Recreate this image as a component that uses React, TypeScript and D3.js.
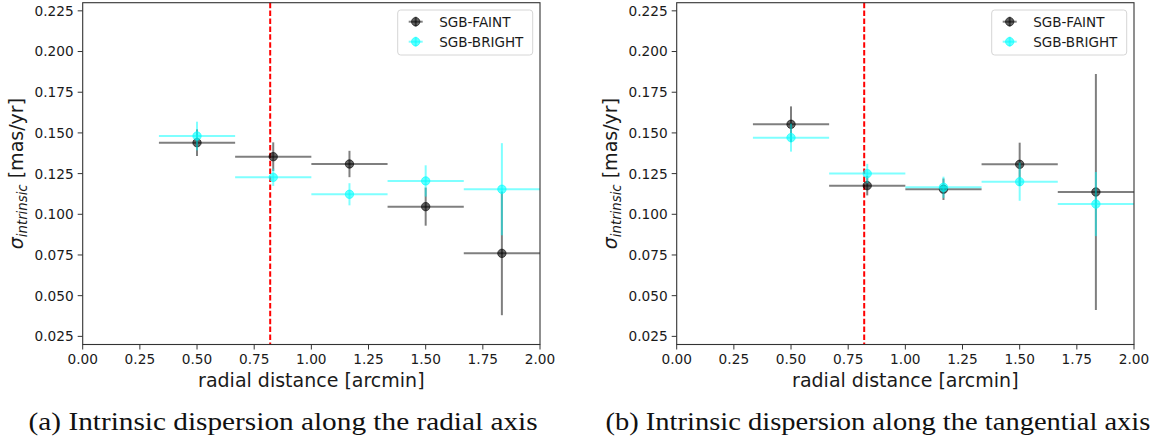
import React, { useEffect, useRef } from 'react';
import * as d3 from 'd3';

// bin centres in arcmin, each bin is 1/3 arcmin wide
const binCenters = [0.5, 0.8333, 1.1667, 1.5, 1.8333];
const binHalfWidth = 1 / 6;

// (a) radial axis
const faintRadial = [0.144, 0.1354, 0.1309, 0.1047, 0.076];
const faintRadialErr = [0.0082, 0.0088, 0.0081, 0.0117, 0.038];
const brightRadial = [0.1481, 0.1227, 0.1123, 0.1205, 0.1154];
const brightRadialErr = [0.0088, 0.0053, 0.0068, 0.0096, 0.0283];

// (b) tangential axis
const faintTang = [0.1553, 0.1176, 0.1154, 0.1307, 0.1137];
const faintTangErr = [0.011, 0.006, 0.0066, 0.0133, 0.0725];
const brightTang = [0.1471, 0.125, 0.1166, 0.12, 0.1063];
const brightTangErr = [0.0086, 0.006, 0.0065, 0.0117, 0.0197];

const seriesNames = ['SGB-FAINT', 'SGB-BRIGHT'];
const seriesColors = ['#000000', '#00ffff'];
const halfLightRadius = 0.82;

const xTicks = [0, 0.25, 0.5, 0.75, 1.0, 1.25, 1.5, 1.75, 2.0];
const yTicks = [0.025, 0.05, 0.075, 0.1, 0.125, 0.15, 0.175, 0.2, 0.225];
const xDomain = [0, 2];
const yDomain = [0.02, 0.23];

const captions = [
  '(a) Intrinsic dispersion along the radial axis',
  '(b) Intrinsic dispersion along the tangential axis',
];

const W = 1162;
const H = 445;
const SANS = 'DejaVu Sans, sans-serif';

export default function App() {
  const svgRef = useRef<SVGSVGElement | null>(null);

  useEffect(() => {
    const svg = d3.select(svgRef.current);
    svg.selectAll('*').remove();

    const panels = [
      {
        left: 82.7, right: 540, top: 2.7, bottom: 344.5,
        faint: faintRadial, faintErr: faintRadialErr,
        bright: brightRadial, brightErr: brightRadialErr,
        caption: captions[0], capX: 28.6, capW: 509,
      },
      {
        left: 676.7, right: 1134, top: 2.7, bottom: 344.5,
        faint: faintTang, faintErr: faintTangErr,
        bright: brightTang, brightErr: brightTangErr,
        caption: captions[1], capX: 605.4, capW: 545,
      },
    ];

    panels.forEach((p) => {
      const x = d3.scaleLinear().domain(xDomain).range([p.left, p.right]);
      const y = d3.scaleLinear().domain(yDomain).range([p.bottom, p.top]);
      const g = svg.append('g');

      // dashed reference line
      g.append('line')
        .attr('x1', x(halfLightRadius)).attr('x2', x(halfLightRadius))
        .attr('y1', p.top).attr('y2', p.bottom)
        .attr('stroke', '#ff0000').attr('stroke-width', 2)
        .attr('stroke-dasharray', '5.5,2.4');

      // error bars + markers
      const sets = [
        { vals: p.faint, errs: p.faintErr, color: seriesColors[0] },
        { vals: p.bright, errs: p.brightErr, color: seriesColors[1] },
      ];
      sets.forEach((s) => {
        const sg = g.append('g');
        binCenters.forEach((c, i) => {
          sg.append('line')
            .attr('x1', x(c - binHalfWidth)).attr('x2', x(c + binHalfWidth))
            .attr('y1', y(s.vals[i])).attr('y2', y(s.vals[i]))
            .attr('stroke', s.color).attr('stroke-opacity', 0.5).attr('stroke-width', 2);
          sg.append('line')
            .attr('x1', x(c)).attr('x2', x(c))
            .attr('y1', y(s.vals[i] - s.errs[i])).attr('y2', y(s.vals[i] + s.errs[i]))
            .attr('stroke', s.color).attr('stroke-opacity', 0.5).attr('stroke-width', 2);
        });
        sg.selectAll('circle')
          .data(binCenters).enter().append('circle')
          .attr('cx', (d) => x(d))
          .attr('cy', (d, i) => y(s.vals[i]))
          .attr('r', 4.2)
          .attr('fill', s.color).attr('fill-opacity', 0.6)
          .attr('stroke', s.color).attr('stroke-opacity', 0.6).attr('stroke-width', 1);
      });

      // frame
      g.append('rect')
        .attr('x', p.left).attr('y', p.top)
        .attr('width', p.right - p.left).attr('height', p.bottom - p.top)
        .attr('fill', 'none').attr('stroke', '#333').attr('stroke-width', 1.1);

      // x axis
      const xa = g.append('g');
      xTicks.forEach((t) => {
        xa.append('line')
          .attr('x1', x(t)).attr('x2', x(t))
          .attr('y1', p.bottom).attr('y2', p.bottom + 5)
          .attr('stroke', '#333').attr('stroke-width', 1);
        xa.append('text')
          .attr('x', x(t)).attr('y', p.bottom + 19.5)
          .attr('text-anchor', 'middle')
          .attr('font-family', SANS).attr('font-size', 13.7).attr('fill', '#1a1a1a')
          .text(d3.format('.2f')(t));
      });
      g.append('text')
        .attr('x', (p.left + p.right) / 2).attr('y', 387)
        .attr('text-anchor', 'middle')
        .attr('font-family', SANS).attr('font-size', 19).attr('fill', '#1a1a1a')
        .text('radial distance [arcmin]');

      // y axis
      yTicks.forEach((t) => {
        g.append('line')
          .attr('x1', p.left - 5).attr('x2', p.left)
          .attr('y1', y(t)).attr('y2', y(t))
          .attr('stroke', '#333').attr('stroke-width', 1);
        g.append('text')
          .attr('x', p.left - 9).attr('y', y(t))
          .attr('dy', '0.36em')
          .attr('text-anchor', 'end')
          .attr('font-family', SANS).attr('font-size', 13.7).attr('fill', '#1a1a1a')
          .text(d3.format('.3f')(t));
      });
      const yl = g.append('text')
        .attr('transform', `translate(${p.left - 60},${(p.top + p.bottom) / 2}) rotate(-90)`)
        .attr('text-anchor', 'middle')
        .attr('font-family', SANS).attr('font-size', 19).attr('fill', '#1a1a1a');
      yl.append('tspan').attr('font-style', 'italic').text('σ');
      yl.append('tspan').attr('font-style', 'italic').attr('font-size', 13.3).attr('dy', 4).text('intrinsic');
      yl.append('tspan').attr('dy', -4).text(' [mas/yr]');

      // legend
      const lx = p.right - 142.3;
      const lg = g.append('g');
      lg.append('rect')
        .attr('x', lx).attr('y', 10).attr('width', 135).attr('height', 45)
        .attr('rx', 3).attr('fill', '#fff').attr('fill-opacity', 0.8)
        .attr('stroke', '#d6d6d6').attr('stroke-width', 1);
      seriesNames.forEach((name, i) => {
        const cy = 21.7 + i * 20;
        const mx = lx + 18;
        lg.append('line')
          .attr('x1', mx - 7).attr('x2', mx + 7).attr('y1', cy).attr('y2', cy)
          .attr('stroke', seriesColors[i]).attr('stroke-opacity', 0.5).attr('stroke-width', 2);
        lg.append('line')
          .attr('x1', mx).attr('x2', mx).attr('y1', cy - 5).attr('y2', cy + 5)
          .attr('stroke', seriesColors[i]).attr('stroke-opacity', 0.5).attr('stroke-width', 2);
        lg.append('circle')
          .attr('cx', mx).attr('cy', cy).attr('r', 4.2)
          .attr('fill', seriesColors[i]).attr('fill-opacity', 0.6)
          .attr('stroke', seriesColors[i]).attr('stroke-opacity', 0.6);
        lg.append('text')
          .attr('x', lx + 41.5).attr('y', cy).attr('dy', '0.36em')
          .attr('font-family', SANS).attr('font-size', 13.5).attr('fill', '#1a1a1a')
          .text(name);
      });

      // caption
      svg.append('text')
        .attr('x', p.capX).attr('y', 430)
        .attr('font-family', 'Liberation Serif, serif').attr('font-size', 24.5)
        .attr('fill', '#111')
        .attr('textLength', p.capW).attr('lengthAdjust', 'spacingAndGlyphs')
        .text(p.caption);
    });
  }, []);

  return (
    <svg
      ref={svgRef}
      width={W}
      height={H}
      style={{ position: 'absolute', left: 0, top: 0, background: 'white' }}
    />
  );
}
